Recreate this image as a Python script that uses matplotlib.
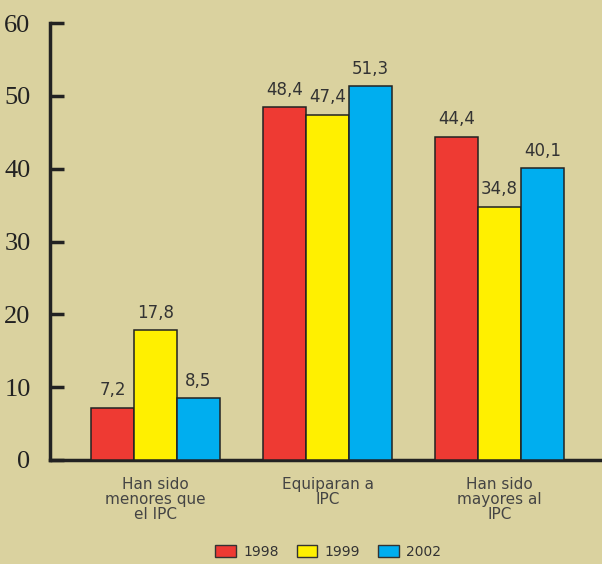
import matplotlib.pyplot as plt
import numpy as np
from matplotlib.patches import Patch

categories = ['Han sido\nmenores que\nel IPC', 'Equiparan a\nIPC', 'Han sido\nmayores al\nIPC']
years = ['1998', '1999', '2002']
v1998 = [7.2, 48.4, 44.4]
v1999 = [17.8, 47.4, 34.8]
v2002 = [8.5, 51.3, 40.1]
colors = ['#ee3a33', '#fff000', '#00aeef']
bg = '#dad29f'


def fmt(v):
    return f'{v:.1f}'.replace('.', ',')


def draw():
    fig = plt.figure(figsize=(6.02, 5.64), dpi=100)
    fig.patch.set_facecolor(bg)
    ax = fig.add_axes([50 / 602, 104 / 564, 1 - 50 / 602, 437 / 564])
    ax.set_facecolor(bg)

    x = np.arange(len(categories))
    w = 0.25
    for i, (vals, c) in enumerate(zip([v1998, v1999, v2002], colors)):
        bars = ax.bar(x + (i - 1) * w, vals, w, color=c, edgecolor='#222222',
                      linewidth=1.1, zorder=3)
        for b, v in zip(bars, vals):
            ax.annotate(fmt(v), (b.get_x() + b.get_width() / 2, v),
                        xytext=(0, 6), textcoords='offset points',
                        ha='center', va='bottom', fontsize=12,
                        color='#333333', family='DejaVu Sans')

    ax.set_xlim((50 - 155.5) / 172, (602 - 155.5) / 172)
    ax.set_ylim(0, 60)
    ax.set_yticks(range(0, 61, 10))
    ax.set_yticklabels([str(t) for t in range(0, 61, 10)],
                       family='Liberation Serif', fontsize=19, color='#222222')
    ax.tick_params(axis='y', direction='in', length=10, width=2.5,
                   color='#222222', pad=14)
    ax.set_xticks(x)
    ax.set_xticklabels(categories, fontsize=11, color='#444444',
                       linespacing=1.0)
    ax.tick_params(axis='x', length=0, pad=12)
    for s in ['top', 'right']:
        ax.spines[s].set_visible(False)
    for s in ['left', 'bottom']:
        ax.spines[s].set_linewidth(2.5)
        ax.spines[s].set_color('#222222')

    handles = [Patch(facecolor=c, edgecolor='#333333', linewidth=1) for c in colors]
    fig.legend(handles, years, loc='center', bbox_to_anchor=(328 / 602, 1 - 552 / 564),
               ncol=3, frameon=False, fontsize=10, handlelength=1.5,
               handleheight=1.0, columnspacing=1.3, handletextpad=0.5,
               labelcolor='#333333')

    fig.savefig('out.png', dpi=100, facecolor=bg)


if __name__ == '__main__':
    draw()
